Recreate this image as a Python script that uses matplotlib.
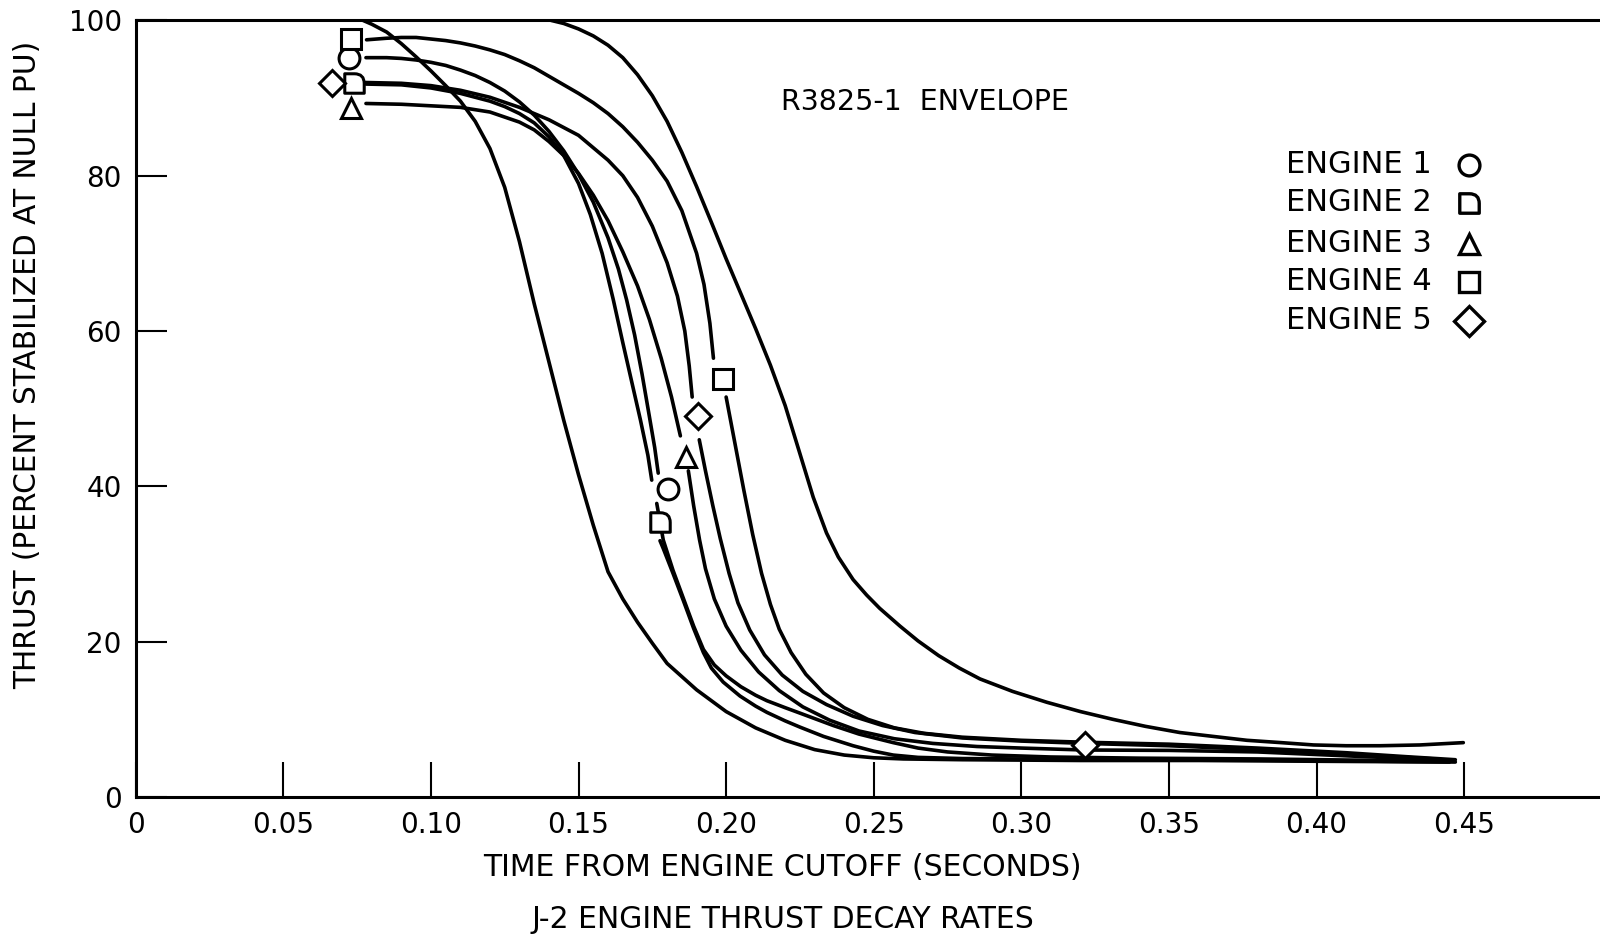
import matplotlib
matplotlib.use('Agg')
import matplotlib.pyplot as plt
from matplotlib.path import Path

plt.rcParams['font.family'] = ['DejaVu Sans']

# envelope curves (R3825-1)
env_lo_t = [0.077, 0.080, 0.085, 0.090, 0.095, 0.100, 0.105, 0.110, 0.115, 0.120, 0.125, 0.130, 0.135,
            0.140, 0.145, 0.150, 0.155, 0.160, 0.165, 0.170, 0.175, 0.180, 0.190, 0.200, 0.210, 0.220,
            0.230, 0.240, 0.250, 0.260, 0.28, 0.32, 0.36, 0.40, 0.447]
env_lo_y = [100, 99.5, 98.5, 97.0, 95.3, 93.5, 91.6, 89.6, 87.0, 83.5, 78.5, 71.5, 63.5,
            56.0, 48.5, 41.5, 35.0, 29.0, 25.5, 22.5, 19.8, 17.2, 13.8, 11.0, 8.9, 7.3,
            6.1, 5.4, 5.05, 4.9, 4.8, 4.7, 4.7, 4.6, 4.5]
env_hi_t = [0.1407, 0.145, 0.150, 0.155, 0.160, 0.165, 0.170, 0.175, 0.180, 0.185, 0.190, 0.195, 0.200,
            0.205, 0.210, 0.215, 0.220, 0.225, 0.2295, 0.234, 0.238, 0.243, 0.2476, 0.252, 0.2589,
            0.265, 0.272, 0.279, 0.286, 0.297, 0.3086, 0.32, 0.331, 0.342, 0.3537, 0.365, 0.3764,
            0.388, 0.399, 0.41, 0.4215, 0.435, 0.4497]
env_hi_y = [100, 99.6, 98.9, 98.0, 96.8, 95.2, 93.0, 90.3, 87.0, 83.0, 78.6, 74.0, 69.3,
            64.8, 60.3, 55.6, 50.4, 44.2, 38.6, 34.0, 30.9, 28.0, 26.0, 24.3, 22.0,
            20.1, 18.2, 16.6, 15.2, 13.6, 12.2, 11.0, 10.0, 9.1, 8.3, 7.8, 7.3,
            7.0, 6.7, 6.6, 6.6, 6.7, 7.0]

# engine 1 (circle): before / after its mid marker
e1_pre_t = [0.078, 0.085, 0.09, 0.095, 0.10, 0.105, 0.11, 0.115, 0.12, 0.125, 0.13, 0.135, 0.14, 0.145,
            0.15, 0.155, 0.16, 0.1635, 0.1663, 0.169, 0.1715, 0.174, 0.1758, 0.177]
e1_pre_y = [95.2, 95.2, 95.1, 94.9, 94.6, 94.2, 93.6, 92.9, 92.0, 90.9, 89.5, 87.8, 85.7, 83.2,
            80.2, 76.6, 72.0, 68.0, 64.0, 59.5, 54.5, 49.0, 45.0, 41.7]
e1_post_t = [0.1765, 0.1787, 0.182, 0.1855, 0.189, 0.1923, 0.196, 0.2, 0.205, 0.21, 0.2138, 0.22, 0.225,
             0.2363, 0.245, 0.2566, 0.265, 0.275, 0.29, 0.31, 0.34, 0.38, 0.445]
e1_post_y = [37.8, 33.1, 29.2, 25.6, 22.0, 19.0, 17.0, 15.6, 14.2, 13.1, 12.4, 11.5, 10.8,
             9.2, 8.1, 7.0, 6.3, 5.8, 5.4, 5.15, 5.0, 4.9, 4.6]
e1_mark_t = [0.0723, 0.1802]
e1_mark_y = [95.1, 39.6]

# engine 2 (D)
e2_pre_t = [0.078, 0.09, 0.10, 0.11, 0.12, 0.125, 0.13, 0.135, 0.14, 0.145, 0.15, 0.154, 0.158, 0.1618,
            0.165, 0.168, 0.171, 0.1735, 0.1748]
e2_pre_y = [91.8, 91.7, 91.3, 90.6, 89.6, 88.9, 88.0, 86.8, 85.0, 82.6, 79.0, 75.0, 70.0, 64.0,
            58.5, 53.5, 48.5, 44.0, 40.8]
e2_post_t = [0.1776, 0.1787, 0.182, 0.1855, 0.189, 0.1923, 0.195, 0.199, 0.2047, 0.21, 0.2138, 0.22, 0.225,
             0.233, 0.243, 0.25, 0.2566, 0.265, 0.28, 0.30, 0.35, 0.40, 0.445]
e2_post_y = [33.0, 32.0, 28.8, 25.3, 21.7, 18.6, 16.6, 14.8, 13.0, 11.7, 10.9, 9.8, 9.0,
             7.8, 6.6, 5.9, 5.4, 5.1, 4.95, 4.9, 4.8, 4.7, 4.5]
e2_mark_t = [0.074, 0.1776]
e2_mark_y = [91.9, 35.4]

# engine 3 (triangle)
e3_pre_t = [0.078, 0.09, 0.10, 0.11, 0.12, 0.13, 0.135, 0.14, 0.145, 0.15, 0.155, 0.16, 0.165, 0.17,
            0.174, 0.178, 0.1815, 0.1845]
e3_pre_y = [89.3, 89.2, 89.0, 88.8, 88.2, 86.9, 85.9, 84.4, 82.6, 80.3, 77.5, 74.2, 70.2, 65.8,
            61.5, 56.5, 51.5, 46.5]
e3_post_t = [0.1872, 0.189, 0.191, 0.193, 0.196, 0.200, 0.205, 0.211, 0.218, 0.226, 0.235, 0.245, 0.257,
             0.27, 0.285, 0.30, 0.3214, 0.35, 0.38, 0.41, 0.44]
e3_post_y = [42.0, 37.5, 33.1, 29.4, 25.5, 22.0, 18.9, 16.1, 13.7, 11.6, 9.9, 8.5, 7.5,
             6.9, 6.5, 6.3, 6.05, 6.0, 5.8, 5.3, 4.8]
e3_mark_t = [0.073, 0.1864]
e3_mark_y = [88.7, 43.8]

# engine 4 (square)
e4_pre_t = [0.0782, 0.085, 0.09, 0.095, 0.10, 0.105, 0.11, 0.115, 0.12, 0.125, 0.13, 0.135, 0.14, 0.145,
            0.15, 0.155, 0.16, 0.165, 0.17, 0.175, 0.18, 0.185, 0.19, 0.1925, 0.1945, 0.1957]
e4_pre_y = [97.5, 97.7, 97.8, 97.8, 97.6, 97.4, 97.1, 96.7, 96.2, 95.6, 94.8, 93.9, 92.8, 91.7,
            90.6, 89.4, 88.0, 86.3, 84.3, 82.0, 79.3, 75.5, 70.0, 66.0, 61.0, 56.5]
e4_post_t = [0.200, 0.203, 0.206, 0.209, 0.212, 0.215, 0.218, 0.222, 0.227, 0.233, 0.240, 0.248, 0.257,
             0.267, 0.28, 0.30, 0.3214, 0.35, 0.38, 0.41, 0.43, 0.447]
e4_post_y = [51.5, 45.5, 39.5, 33.8, 28.8, 24.8, 21.6, 18.6, 15.8, 13.4, 11.5, 10.0, 8.9,
             8.2, 7.7, 7.3, 7.05, 6.8, 6.3, 5.7, 5.2, 4.8]
e4_mark_t = [0.073, 0.1988]
e4_mark_y = [97.6, 53.8]

# engine 5 (diamond)
e5_pre_t = [0.078, 0.09, 0.10, 0.11, 0.12, 0.13, 0.14, 0.15, 0.16, 0.165, 0.17, 0.175, 0.18, 0.1835,
            0.186, 0.1875, 0.1885]
e5_pre_y = [92.0, 91.9, 91.6, 91.0, 90.1, 88.8, 87.2, 85.2, 82.0, 80.0, 77.2, 73.5, 68.8, 64.5,
            60.0, 55.5, 51.5]
e5_post_t = [0.1909, 0.193, 0.1955, 0.198, 0.201, 0.204, 0.208, 0.213, 0.219, 0.226, 0.234, 0.243, 0.253,
             0.264, 0.28, 0.30, 0.3214, 0.35, 0.38, 0.41, 0.44]
e5_post_y = [46.0, 42.0, 37.5, 33.3, 28.8, 25.0, 21.5, 18.3, 15.7, 13.6, 11.9, 10.4, 9.2,
             8.3, 7.6, 7.2, 6.9, 6.6, 6.1, 5.5, 4.9]
e5_mark_t = [0.0664, 0.1904, 0.3214]
e5_mark_y = [92.0, 49.0, 6.7]

x_ticks = [0, 0.05, 0.10, 0.15, 0.20, 0.25, 0.30, 0.35, 0.40, 0.45]
x_labels = ['0', '0.05', '0.10', '0.15', '0.20', '0.25', '0.30', '0.35', '0.40', '0.45']
y_ticks = [0, 20, 40, 60, 80, 100]
engine_names = ['ENGINE 1', 'ENGINE 2', 'ENGINE 3', 'ENGINE 4', 'ENGINE 5']

# D-shaped marker for engine 2
d_shape = Path([(-1, -1), (-1, 1), (0, 1), (1, 1), (1, 0), (1, -1), (-1, -1)],
               [Path.MOVETO, Path.LINETO, Path.LINETO, Path.CURVE3, Path.CURVE3, Path.LINETO, Path.CLOSEPOLY])
markers = ['o', d_shape, '^', 's', 'D']
msizes = [15, 14, 14, 14, 13]

fig = plt.figure(figsize=(16, 9.35), dpi=100)
ax = fig.add_axes([0.0848, 0.1476, 0.9152, 0.8306])

lw = 2.6
ax.plot(env_lo_t, env_lo_y, color='black', lw=lw, solid_capstyle='round', solid_joinstyle='round')
ax.plot(env_hi_t, env_hi_y, color='black', lw=lw, solid_capstyle='round', solid_joinstyle='round')

engines = [
    (e1_pre_t, e1_pre_y, e1_post_t, e1_post_y, e1_mark_t, e1_mark_y),
    (e2_pre_t, e2_pre_y, e2_post_t, e2_post_y, e2_mark_t, e2_mark_y),
    (e3_pre_t, e3_pre_y, e3_post_t, e3_post_y, e3_mark_t, e3_mark_y),
    (e4_pre_t, e4_pre_y, e4_post_t, e4_post_y, e4_mark_t, e4_mark_y),
    (e5_pre_t, e5_pre_y, e5_post_t, e5_post_y, e5_mark_t, e5_mark_y),
]
for i, (pt, py, qt, qy, mt, my) in enumerate(engines):
    ax.plot(pt, py, color='black', lw=lw, solid_capstyle='round', solid_joinstyle='round', zorder=2)
    ax.plot(qt, qy, color='black', lw=lw, solid_capstyle='round', solid_joinstyle='round', zorder=2)
    ax.plot(mt, my, ls='none', marker=markers[i], ms=msizes[i], mfc='white', mec='black', mew=2.2,
            zorder=4, clip_on=False)

# legend block
row_y = [0.8138, 0.7649, 0.7121, 0.6632, 0.6130]
leg_sizes = [15, 14, 14, 14, 15]
for i, name in enumerate(engine_names):
    ax.text(0.7857, row_y[i], name, transform=ax.transAxes, ha='left', va='center', fontsize=22)
    ax.plot([0.9107], [row_y[i]], transform=ax.transAxes, ls='none', marker=markers[i], ms=leg_sizes[i],
            mfc='white', mec='black', mew=2.4, clip_on=False)

ax.text(0.2185, 89.5, 'R3825-1  ENVELOPE', ha='left', va='center', fontsize=20.5)

ax.set_xlim(0, 0.496)
ax.set_ylim(0, 100)
ax.set_xticks(x_ticks)
ax.set_xticklabels(x_labels)
ax.set_yticks(y_ticks)
ax.set_yticklabels([str(v) for v in y_ticks])
ax.tick_params(axis='x', direction='in', length=25, width=1.5, pad=10, labelsize=20)
ax.tick_params(axis='y', direction='in', length=22, width=1.5, pad=10, labelsize=20)
ax.spines['right'].set_visible(False)
for s in ['top', 'bottom', 'left']:
    ax.spines[s].set_linewidth(2.2)

fig.text(0.0175, 0.61, 'THRUST (PERCENT STABILIZED AT NULL PU)', rotation=90, ha='center', va='center',
         fontsize=21.3)
fig.text(0.489, 0.0717, 'TIME FROM ENGINE CUTOFF (SECONDS)', ha='center', va='center', fontsize=21.5)
fig.text(0.489, 0.017, 'J-2 ENGINE THRUST DECAY RATES', ha='center', va='center', fontsize=21.5)

fig.savefig('out.png', dpi=100)
